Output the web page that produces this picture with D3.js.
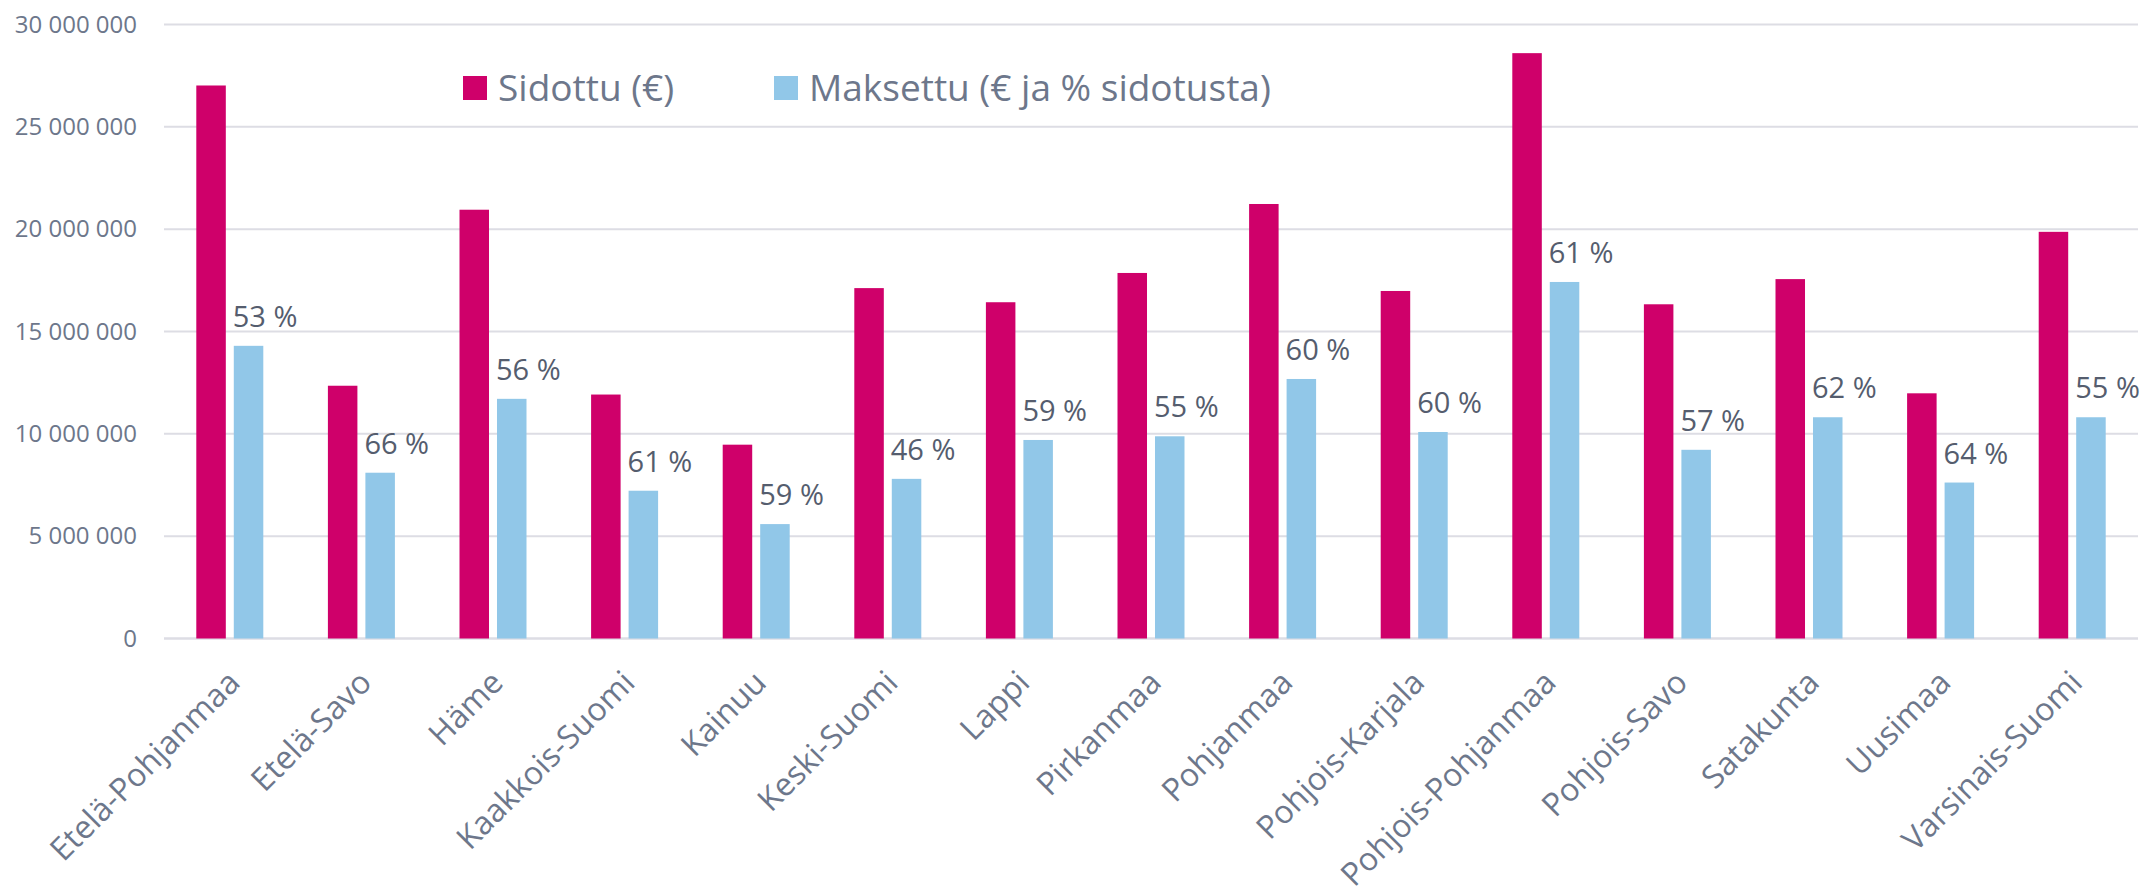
<!DOCTYPE html>
<html>
<head>
<meta charset="utf-8">
<script src="https://cdn.jsdelivr.net/npm/d3@7"></script>
<style>
  body { margin: 0; background: #fff; }
  svg { display: block; font-family: "Open Sans", "Noto Sans", sans-serif; }
</style>
</head>
<body>
<div id="chart"></div>
<script>
// maakunnat
const regions = [
    "Etelä-Pohjanmaa", "Etelä-Savo", "Häme", "Kaakkois-Suomi", "Kainuu",
    "Keski-Suomi", "Lappi", "Pirkanmaa", "Pohjanmaa", "Pohjois-Karjala",
    "Pohjois-Pohjanmaa", "Pohjois-Savo", "Satakunta", "Uusimaa", "Varsinais-Suomi"
];

const sidottu = [
    27020000, 12350000, 20950000, 11920000, 9470000,
    17120000, 16430000, 17860000, 21230000, 16980000,
    28600000, 16330000, 17560000, 11980000, 19870000
];

const maksettu = [
    14300000, 8100000, 11710000, 7220000, 5590000,
    7800000, 9700000, 9880000, 12680000, 10090000,
    17420000, 9220000, 10810000, 7620000, 10810000
];

const pctLabels = [
    "53 %", "66 %", "56 %", "61 %", "59 %",
    "46 %", "59 %", "55 %", "60 %", "60 %",
    "61 %", "57 %", "62 %", "64 %", "55 %"
];

const yTicks = [0, 5000000, 10000000, 15000000, 20000000, 25000000, 30000000];

const seriesNames = ["Sidottu (€)", "Maksettu (€ ja % sidotusta)"];
const seriesKeys = ["sidottu", "maksettu"];
const COLORS = { sidottu: "#cf006a", maksettu: "#91c7e8" };

const W = 2141, H = 893;
const plot = { left: 164, right: 2138, top: 24.5, bottom: 638.5 };

const data = regions.map((r, i) => ({
    region: r,
    sidottu: sidottu[i],
    maksettu: maksettu[i],
    pct: pctLabels[i]
}));

const svg = d3.select("#chart").append("svg")
    .attr("width", W)
    .attr("height", H);

// scales
const x0 = d3.scaleBand()
    .domain(regions)
    .range([plot.left, plot.right]);

const groupW = 67;
const x1 = d3.scaleBand()
    .domain(seriesKeys)
    .range([0, groupW])
    .paddingInner(0.213);

const y = d3.scaleLinear()
    .domain([0, 30000000])
    .range([plot.bottom, plot.top]);

const fmt = v => d3.format(",")(v).replace(/,/g, " ");

// grid
svg.append("g")
    .selectAll("line")
    .data(yTicks)
    .join("line")
    .attr("x1", plot.left)
    .attr("x2", plot.right)
    .attr("y1", d => y(d))
    .attr("y2", d => y(d))
    .attr("stroke", "#dddde4")
    .attr("stroke-width", d => d === 0 ? 2.5 : 2);

// y axis labels
const yAxis = svg.append("g")
    .attr("transform", `translate(${plot.left - 27},0)`)
    .call(d3.axisLeft(y).tickValues(yTicks).tickFormat(fmt).tickSize(0).tickPadding(0));
yAxis.select(".domain").remove();
yAxis.selectAll("text")
    .attr("font-size", 24)
    .attr("font-family", "'Open Sans', sans-serif")
    .attr("fill", "#6d778b");

// bars
const groups = svg.append("g")
    .selectAll("g")
    .data(data)
    .join("g")
    .attr("transform", d => `translate(${x0(d.region) + (x0.bandwidth() - groupW) / 2},0)`);

groups.selectAll("rect")
    .data(d => seriesKeys.map(k => ({ key: k, value: d[k] })))
    .join("rect")
    .attr("x", d => x1(d.key))
    .attr("y", d => y(d.value))
    .attr("width", x1.bandwidth())
    .attr("height", d => y(0) - y(d.value))
    .attr("fill", d => COLORS[d.key]);

// prosenttimerkinnät
groups.append("text")
    .attr("x", x1("maksettu") - 1)
    .attr("y", d => y(d.maksettu) - 19)
    .attr("font-size", 29)
    .attr("fill", "#555d6e")
    .text(d => d.pct);

// x axis labels
const xAxis = svg.append("g")
    .attr("transform", `translate(0,${plot.bottom})`)
    .call(d3.axisBottom(x0).tickSize(0).tickPadding(0));
xAxis.select(".domain").remove();
xAxis.selectAll("text")
    .attr("font-size", 32)
    .attr("font-family", "'Open Sans', sans-serif")
    .attr("fill", "#6d778b")
    .attr("text-anchor", "end")
    .attr("dy", null)
    .attr("transform", "translate(12,46) rotate(-45)");

// legend
const legend = svg.append("g");
const legendX = [463, 774];
seriesKeys.forEach((k, i) => {
    legend.append("rect")
        .attr("x", legendX[i])
        .attr("y", 76)
        .attr("width", 24)
        .attr("height", 24)
        .attr("fill", COLORS[k]);
    legend.append("text")
        .attr("x", legendX[i] + 35)
        .attr("y", 101)
        .attr("font-size", 37)
        .attr("fill", "#6d778b")
        .text(seriesNames[i]);
});
</script>
</body>
</html>
